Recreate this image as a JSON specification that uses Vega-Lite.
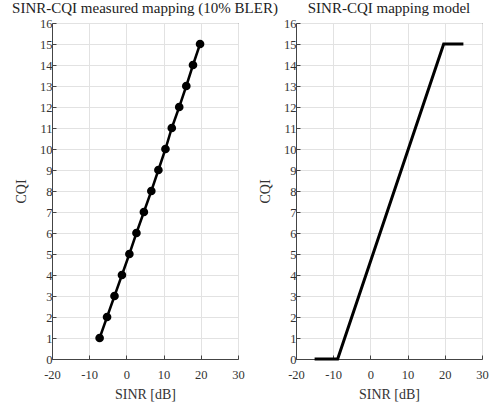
{
  "$schema": "https://vega.github.io/schema/vega-lite/v6.json",
  "padding": {"left": 11, "top": 0, "right": 5, "bottom": 5},
  "background": "white",
  "datasets": {
    "measured": [
      {"sinr": -7.2, "cqi": 1}, {"sinr": -5.2, "cqi": 2}, {"sinr": -3.2, "cqi": 3},
      {"sinr": -1.2, "cqi": 4}, {"sinr": 0.8, "cqi": 5}, {"sinr": 2.7, "cqi": 6},
      {"sinr": 4.7, "cqi": 7}, {"sinr": 6.7, "cqi": 8}, {"sinr": 8.6, "cqi": 9},
      {"sinr": 10.5, "cqi": 10}, {"sinr": 12.2, "cqi": 11}, {"sinr": 14.2, "cqi": 12},
      {"sinr": 16.1, "cqi": 13}, {"sinr": 17.9, "cqi": 14}, {"sinr": 19.8, "cqi": 15}
    ],
    "model": [
      {"sinr": -15, "cqi": 0}, {"sinr": -8.8, "cqi": 0},
      {"sinr": 19.7, "cqi": 15}, {"sinr": 25, "cqi": 15}
    ]
  },
  "config": {
    "font": "Liberation Serif",
    "view": {"stroke": "#444", "strokeWidth": 1},
    "axis": {
      "grid": true, "gridColor": "#e2e2e2", "gridWidth": 1,
      "domainColor": "#444", "tickColor": "#444", "tickSize": -4,
      "labelColor": "#333", "labelFontSize": 12.5, "labelPadding": 4,
      "labelFlush": false,
      "titleFontSize": 14, "titleFontWeight": "normal", "titleColor": "#333",
      "labelFont": "Liberation Serif", "titleFont": "Liberation Serif",
      "labelExpr": "toString(datum.value)"
    },
    "axisX": {"labelPadding": 13, "titlePadding": 7},
    "axisY": {"labelPadding": 4, "titlePadding": 11},
    "title": {"font": "Liberation Serif", "fontSize": 15, "fontWeight": "normal", "color": "#222", "offset": 1}
  },
  "bounds": "flush",
  "spacing": 58,
  "hconcat": [
    {
      "title": "SINR-CQI measured mapping (10% BLER)",
      "width": 186, "height": 336,
      "data": {"name": "measured"},
      "encoding": {
        "x": {"field": "sinr", "type": "quantitative", "title": "SINR [dB]",
              "scale": {"domain": [-20, 30], "nice": false},
              "axis": {"values": [-20, -10, 0, 10, 20, 30]}},
        "y": {"field": "cqi", "type": "quantitative", "title": "CQI",
              "scale": {"domain": [0, 16], "nice": false},
              "axis": {"values": [0,1,2,3,4,5,6,7,8,9,10,11,12,13,14,15,16]}}
      },
      "layer": [
        {"mark": {"type": "line", "color": "black", "strokeWidth": 2.5}},
        {"mark": {"type": "point", "filled": true, "color": "black", "opacity": 1, "size": 75}}
      ]
    },
    {
      "title": "SINR-CQI mapping model",
      "width": 186, "height": 336,
      "data": {"name": "model"},
      "encoding": {
        "x": {"field": "sinr", "type": "quantitative", "title": "SINR [dB]",
              "scale": {"domain": [-20, 30], "nice": false},
              "axis": {"values": [-20, -10, 0, 10, 20, 30]}},
        "y": {"field": "cqi", "type": "quantitative", "title": "CQI",
              "scale": {"domain": [0, 16], "nice": false},
              "axis": {"values": [0,1,2,3,4,5,6,7,8,9,10,11,12,13,14,15,16]}}
      },
      "layer": [
        {"mark": {"type": "line", "color": "black", "strokeWidth": 3}}
      ]
    }
  ]
}
